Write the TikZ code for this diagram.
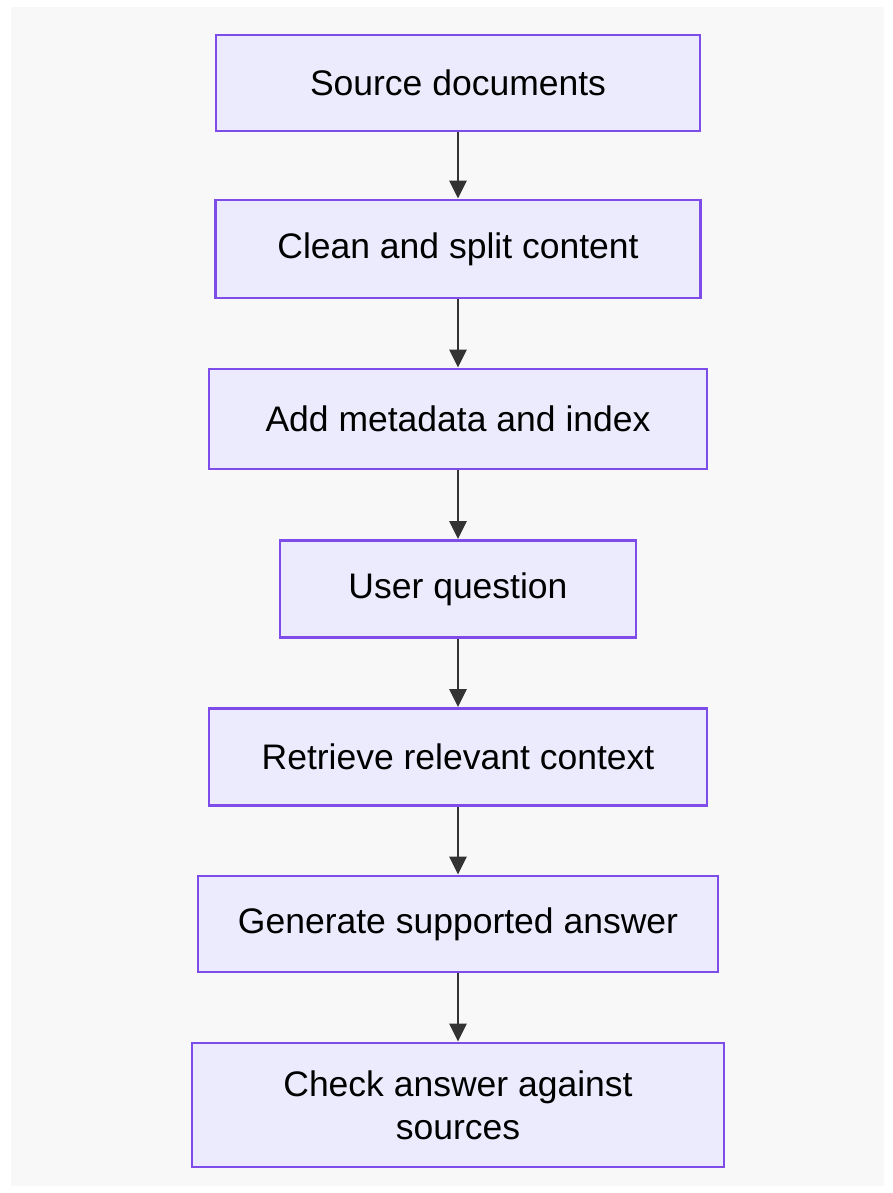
\documentclass[tikz,border=0pt]{standalone}
\usepackage{fontspec}
\setmainfont{Liberation Sans}
\usetikzlibrary{arrows.meta}
\usetikzlibrary{positioning}

\definecolor{boxfill}{HTML}{ECEBFD}
\definecolor{boxline}{HTML}{7E4CE8}
\definecolor{arrowgray}{HTML}{333333}
\definecolor{paper}{HTML}{F8F8F8}

\begin{document}
\begin{tikzpicture}[x=1pt, y=-1pt,
  stage/.style={rectangle, draw=boxline, fill=boxfill, line width=2.8pt, font=\fontsize{35.5}{43}\selectfont, text=black, align=center, inner sep=0pt},
  flow/.style={draw=arrowgray, line width=2.6pt, -{Triangle[length=18pt, width=17pt]}}]
        % page and background
        \useasboundingbox (0,0) rectangle (892,1193);
        \fill[white] (0,0) rectangle (892,1193);
        \fill[paper] (11,7) rectangle (884,1186);

        % the steps, top to bottom
        \node[stage, minimum width=484pt, minimum height=96pt] (src) at (458,83) {Source documents};
        \node[stage, minimum width=485pt, minimum height=98pt] (clean) at (458,249) {Clean and split content};
        \node[stage, minimum width=498pt, minimum height=100pt] (meta) at (458,419) {Add metadata and index};
        \node[stage, minimum width=356pt, minimum height=97pt] (quest) at (458,589) {User question};
        \node[stage, minimum width=498pt, minimum height=97pt] (retr) at (458,757) {Retrieve relevant context};
        \node[stage, minimum width=520pt, minimum height=96pt] (gen) at (458,924) {Generate supported answer};
        \node[stage, minimum width=532pt, minimum height=124pt] (check) at (458,1105) {Check answer against\\sources};

        % connect the steps
        \draw[flow] (src) -- (clean);
        \draw[flow] (clean) -- (meta);
        \draw[flow] (meta) -- (quest);
        \draw[flow] (quest) -- (retr);
        \draw[flow] (retr) -- (gen);
        \draw[flow] (gen) -- (check);
      \end{tikzpicture}
\end{document}
